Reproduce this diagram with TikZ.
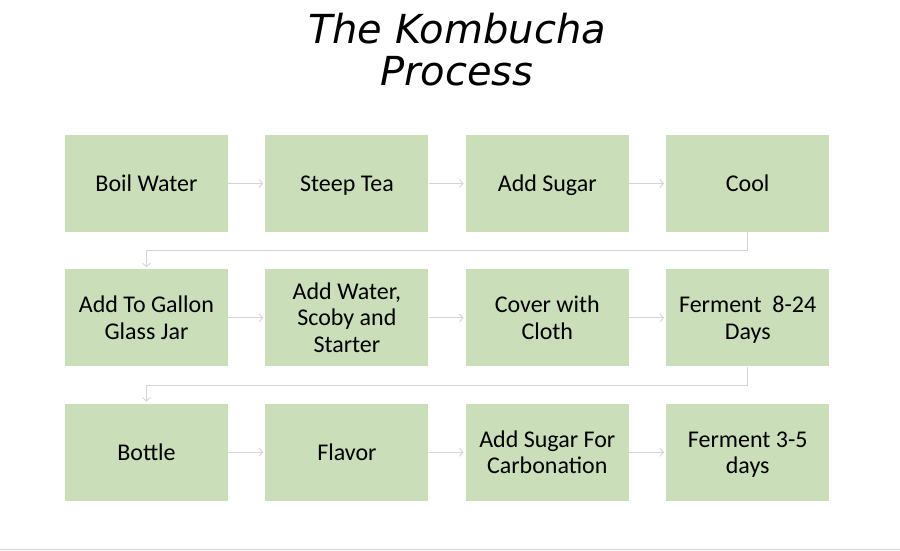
\documentclass[tikz,border=0pt]{standalone}
\usepackage{fontspec}
\setmainfont{Carlito}
\newfontfamily\kombtitle{DejaVu Sans}
\usepackage{xcolor}
\usepackage{tikz}
\usetikzlibrary{arrows.meta, positioning}

\definecolor{stepgreen}{HTML}{C9DEB9}
\definecolor{linkgray}{HTML}{D4D4D4}
\newcommand\boxtopstrut{\rule[-7pt]{0pt}{23pt}}
\newcommand\boxlaststrut{\rule[-7pt]{0pt}{30pt}}
\newcommand\firstrow{\rule{0pt}{23pt}}

\begin{document}
\begin{tikzpicture}[
    x=1pt, y=-1pt,
    node distance=37pt and 37pt,
    stepbox/.style={rectangle, fill=stepgreen, minimum width=163pt, minimum height=97pt, inner sep=2pt, align=center, font=\fontsize{24}{26.5}\selectfont, execute at begin node=\boxtopstrut, execute at end node=\boxlaststrut},
    link/.style={draw=linkgray, line width=0.9pt, -{Straight Barb[length=3.5pt, width=8pt]}, shorten >=2pt}
]
\useasboundingbox (0,0) rectangle (900,551);

\node[font=\kombtitle\itshape\fontsize{40}{42}\selectfont, align=center] (title) at (457,50) {The Kombucha\\Process};

% row 1
\node[stepbox] (boil) at (146.5,183.5) {Boil Water};
\node[stepbox, right=of boil] (steep) {Steep Tea};
\node[stepbox, right=of steep] (sugar) {Add Sugar};
\node[stepbox, right=of sugar] (cool) {Cool};

% row 2
\node[stepbox, below=of boil] (jar) {\firstrow Add To Gallon\\Glass Jar};
\node[stepbox, right=of jar] (scoby) {\firstrow Add Water,\\Scoby and\\Starter};
\node[stepbox, right=of scoby] (cloth) {\firstrow Cover with\\Cloth};
\node[stepbox, right=of cloth] (ferment) {\firstrow Ferment~ 8-24\\Days};

% row 3
\node[stepbox, below=of jar] (bottle) {Bottle};
\node[stepbox, right=of bottle] (flavor) {Flavor};
\node[stepbox, right=of flavor] (carb) {\firstrow Add Sugar For\\Carbonation};
\node[stepbox, right=of carb] (second) {\firstrow Ferment 3-5\\days};

\draw[link] (boil) -- (steep);
\draw[link] (steep) -- (sugar);
\draw[link] (sugar) -- (cool);
\draw[link] (cool.south) -- ++(0,18.5) -| (jar.north);
\draw[link] (jar) -- (scoby);
\draw[link] (scoby) -- (cloth);
\draw[link] (cloth) -- (ferment);
\draw[link] (ferment.south) -- ++(0,18.5) -| (bottle.north);
\draw[link] (bottle) -- (flavor);
\draw[link] (flavor) -- (carb);
\draw[link] (carb) -- (second);

\draw[linkgray, line width=1.2pt] (0,549.5) -- (900,549.5);
\end{tikzpicture}
\end{document}
